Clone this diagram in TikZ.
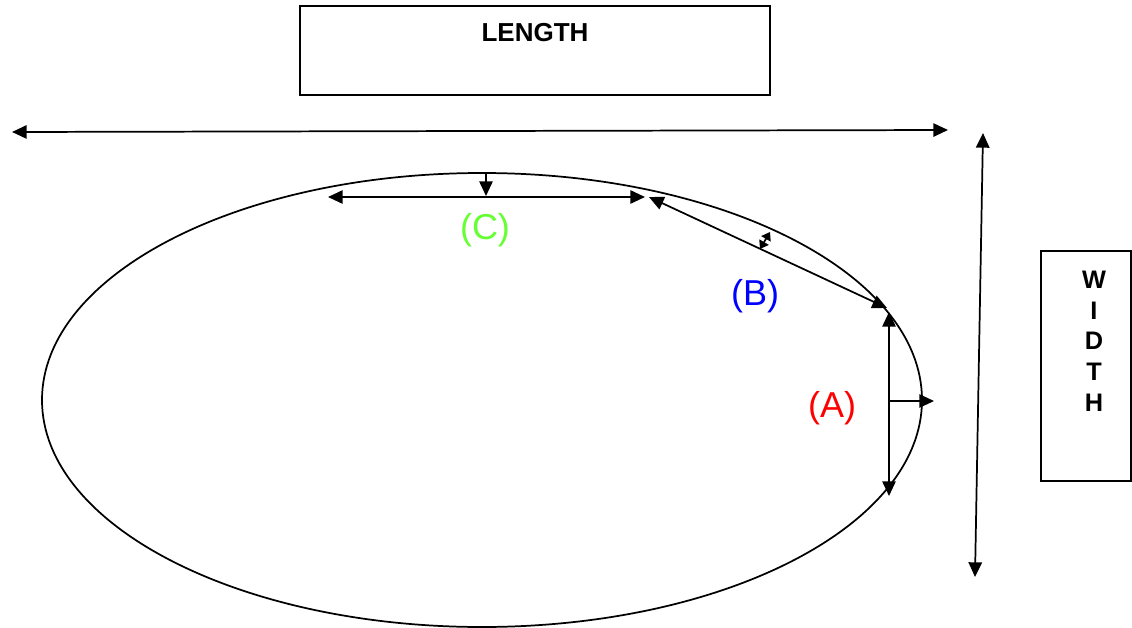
\documentclass[tikz,border=0pt]{standalone}
\usepackage{fontspec}
\setmainfont{Liberation Sans}
\usetikzlibrary{arrows.meta,shapes.geometric}
\definecolor{lblred}{RGB}{255,0,0}
\definecolor{lblblue}{RGB}{0,0,255}
\definecolor{lblgreen}{RGB}{102,255,51}
\begin{document}
\begin{tikzpicture}[x=0.75pt,y=-0.75pt,
  line/.style={line width=1.3pt},
  dbl/.style={line, {Triangle[length=11pt,width=10pt]}-{Triangle[length=11pt,width=10pt]}},
  sgl/.style={line, -{Triangle[length=11pt,width=10pt]}},
  tiny/.style={line, {Triangle[length=6pt,width=8pt]}-{Triangle[length=6pt,width=8pt]}},
  box/.style={draw, line width=1pt, inner sep=0pt},
  lbl/.style={font=\fontsize{27}{31}\selectfont, inner sep=0pt},
  title/.style={font=\fontsize{19.5}{23}\selectfont\bfseries, inner sep=0pt, align=center}]
\useasboundingbox (0,0) rectangle (1132,628);
% boxes
\node (lenbox) [box, minimum width=352.5pt, minimum height=66.75pt] at (535,50.5) {};
\node (lentext) [title] at (535,33) {LENGTH};
\node (widbox) [box, minimum width=67.5pt, minimum height=172.5pt] at (1086,366) {};
\node (widtext) [title, font=\fontsize{19}{23}\selectfont\bfseries] at (1094,341) {W\\I\\D\\T\\H};
% ellipse
\node (oval) [draw, line, ellipse, inner sep=0pt, minimum width=660pt, minimum height=340.5pt] at (482,400) {};
% length and width arrows
\coordinate (L1) at (12,132);
\coordinate (L2) at (948,130);
\draw[dbl] (L1) -- (L2);
\coordinate (W1) at (983,133);
\coordinate (W2) at (975,577);
\draw[dbl] (W1) -- (W2);
% (C)
\coordinate (C1) at (328,197);
\coordinate (C2) at (645,197);
\coordinate (Ctop) at (486,173);
\coordinate (Cmid) at (486,196);
\draw[dbl] (C1) -- (C2);
\draw[sgl] (Ctop) -- (Cmid);
\node (Clbl) [lbl, text=lblgreen] at (485,230) {(C)};
% (B)
\coordinate (B1) at (649,197);
\coordinate (B2) at (887,308);
\coordinate (Bs1) at (760,249);
\coordinate (Bs2) at (770,232);
\draw[dbl] (B1) -- (B2);
\draw[tiny] (Bs1) -- (Bs2);
\node (Blbl) [lbl, text=lblblue] at (755,296) {(B)};
% (A)
\coordinate (A1) at (889,312);
\coordinate (A2) at (889,496);
\coordinate (Amid) at (889,401);
\coordinate (Aout) at (934,401);
\draw[dbl] (A1) -- (A2);
\draw[sgl] (Amid) -- (Aout);
\node (Albl) [lbl, text=lblred] at (832,408) {(A)};
\end{tikzpicture}
\end{document}
